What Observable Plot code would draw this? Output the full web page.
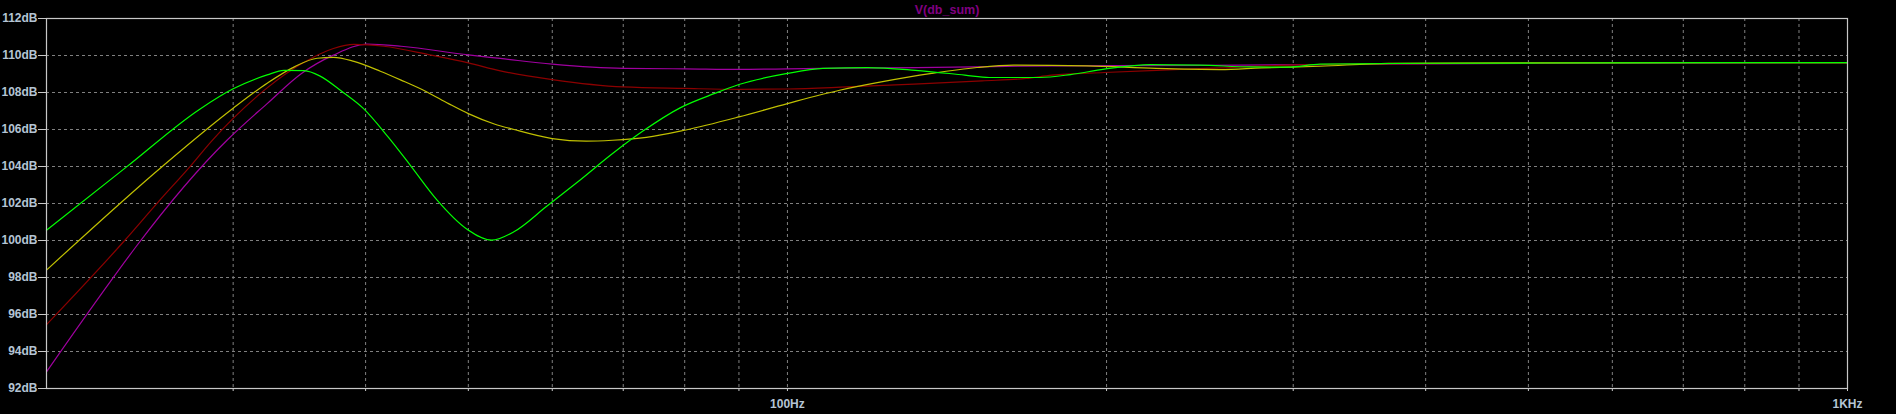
<!DOCTYPE html>
<html>
<head>
<meta charset="utf-8">
<script src="https://cdn.jsdelivr.net/npm/d3@7"></script>
<script src="https://cdn.jsdelivr.net/npm/@observablehq/plot@0.6"></script>
<style>
  html, body { margin: 0; padding: 0; background: #000; }
  #chart svg { display: block; }
</style>
</head>
<body>
<div id="chart"></div>
<script>
// ---- data (frequency in Hz, level in dB) ----
const titleText = "V(db_sum)";

const greenF  = [20, 23.8, 27.9, 30, 32.3, 33.5, 35, 36.2, 38, 39.8, 42, 44.1, 46.7, 49.9, 52.6, 55.2, 59.2, 63.7, 68.4, 73, 79.2, 85.4, 90, 100, 108, 119, 132, 147, 155, 173, 185, 199, 220, 245, 274, 297, 318, 400, 600, 1000];
const greenDB = [100.55, 103.98, 107.1, 108.2, 108.95, 109.2, 109.18, 108.9, 108.05, 107.14, 105.6, 104.05, 102.2, 100.6, 100.02, 100.47, 101.82, 103.26, 104.7, 105.9, 107.17, 107.95, 108.43, 109.03, 109.3, 109.35, 109.2, 108.94, 108.81, 108.81, 108.97, 109.26, 109.51, 109.48, 109.38, 109.37, 109.53, 109.58, 109.6, 109.62];

const yellowF  = [20, 25.8, 30, 32.3, 34.3, 36, 37.3, 39, 41.3, 43.2, 45.7, 47.9, 50, 52.9, 55.2, 60, 64.6, 68.4, 73.6, 80, 90, 100, 112, 122.6, 136.8, 150.9, 163.4, 191.6, 222.8, 256, 280, 318, 369, 500, 1000];
const yellowDB = [98.4, 104.07, 107.15, 108.5, 109.4, 109.85, 109.9, 109.68, 109.15, 108.67, 108.03, 107.4, 106.86, 106.3, 106.0, 105.51, 105.37, 105.42, 105.57, 105.96, 106.68, 107.4, 108.12, 108.57, 109.03, 109.35, 109.48, 109.44, 109.3, 109.24, 109.33, 109.42, 109.57, 109.6, 109.62];

const redF  = [20, 23.7, 25.5, 27.3, 28.6, 30, 32.3, 34.8, 37.3, 39, 41.6, 46.1, 50, 53.6, 60, 70, 80, 90, 100, 113.8, 131.6, 152.6, 168, 177.6, 199, 223, 256, 297, 340, 500, 1000];
const redDB = [95.45, 100.0, 102.09, 103.98, 105.35, 106.6, 108.25, 109.55, 110.38, 110.6, 110.5, 110.02, 109.6, 109.17, 108.7, 108.3, 108.22, 108.17, 108.19, 108.3, 108.45, 108.63, 108.76, 108.94, 109.08, 109.2, 109.33, 109.48, 109.53, 109.6, 109.62];

const purpleF  = [20, 29.6, 32.3, 34.8, 37.3, 40.1, 43.2, 50, 53.6, 60, 70, 80, 90, 100, 122, 150, 165, 250, 400, 1000];
const purpleDB = [92.9, 105.42, 107.4, 109.03, 110.02, 110.61, 110.5, 110.03, 109.84, 109.53, 109.3, 109.28, 109.25, 109.28, 109.33, 109.38, 109.42, 109.47, 109.55, 109.62];

const xGridTicks = [30, 40, 50, 60, 70, 80, 90, 100, 200, 300, 400, 500, 600, 700, 800, 900];
const xAxisTicks = [30, 40, 50, 60, 70, 80, 90, 100, 200, 300, 400, 500, 600, 700, 800, 900, 1000];
const xTickLabels = {100: "100Hz", 1000: "1KHz"};
const yTicks = [92, 94, 96, 98, 100, 102, 104, 106, 108, 110, 112];
const yGridTicks = [94, 96, 98, 100, 102, 104, 106, 108, 110];

// ---- build ----
const toRows = (fs, dbs) => fs.map((f, i) => ({f, db: dbs[i]}));
const series = [
  {rows: toRows(purpleF, purpleDB), color: "#a000a0"},
  {rows: toRows(redF, redDB), color: "#8c0000"},
  {rows: toRows(yellowF, yellowDB), color: "#c0c000"},
  {rows: toRows(greenF, greenDB), color: "#00ff00"}
];

const axisColor = "#c8c8c8";
const labelColor = "#b4c4d4";
const gridColor = "#808080";

const chart = Plot.plot({
  width: 1896,
  height: 414,
  marginLeft: 46,
  marginRight: 49,
  marginTop: 18,
  marginBottom: 26,
  style: {
    background: "#000",
    color: labelColor,
    fontFamily: "'Liberation Sans', Arial, sans-serif",
    fontSize: "12px",
    fontWeight: "bold"
  },
  x: {type: "log", domain: [20, 1000]},
  y: {domain: [92, 112]},
  marks: [
    Plot.ruleX(xGridTicks, {stroke: gridColor, strokeDasharray: "3,3", strokeWidth: 1}),
    Plot.ruleY(yGridTicks, {stroke: gridColor, strokeDasharray: "3,3", strokeWidth: 1}),
    ...series.map(s => Plot.line(s.rows, {x: "f", y: "db", stroke: s.color, strokeWidth: 1.2, curve: "monotone-x"})),
    Plot.frame({stroke: axisColor, strokeWidth: 1.2}),
    Plot.axisX(xAxisTicks, {
      tickSize: 3,
      tickPadding: 8,
      stroke: axisColor,
      fill: labelColor,
      tickFormat: d => xTickLabels[d] || "",
      label: null
    }),
    Plot.axisY(yTicks, {
      tickSize: 8,
      tickPadding: 1,
      stroke: axisColor,
      fill: labelColor,
      tickFormat: d => d + "dB",
      label: null
    }),
    Plot.text([titleText], {
      frameAnchor: "top",
      dy: -9,
      text: d => d,
      fill: "#800080",
      fontSize: 12.5,
      fontWeight: "bold",
      lineAnchor: "middle"
    })
  ]
});

document.getElementById("chart").appendChild(chart);
</script>
</body>
</html>
